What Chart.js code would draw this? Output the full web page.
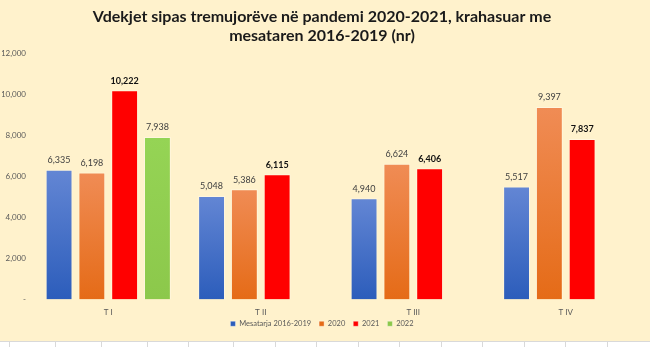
<!DOCTYPE html>
<html>
<head>
<meta charset="utf-8">
<script src="https://cdn.jsdelivr.net/npm/chart.js@4/dist/chart.umd.min.js"></script>
<style>
  html, body { margin: 0; padding: 0; background: #ffffff; }
  #wrap { position: relative; width: 650px; height: 347px; overflow: hidden; }
  #panel { position: absolute; left: 0; top: 0; width: 650px; height: 341px; background: #fff2cc; }
  #sheet { position: absolute; left: 0; top: 341px; width: 650px; height: 6px; border-top: 1px solid #d9d9d9; background: #fff; }
  .cell { position: absolute; top: 0; width: 1px; height: 6px; background: #d9d9d9; }
</style>
</head>
<body>
<div id="wrap">
  <div id="panel"><canvas id="deathsChart"></canvas></div>
  <div id="sheet"></div>
</div>
<script>
// Quarterly deaths, pandemic years vs 2016-2019 average
const quarters = ['T I', 'T II', 'T III', 'T IV'];
const seriesNames = ['Mesatarja 2016-2019', '2020', '2021', '2022'];
const avg2016to2019 = [6335, 5048, 4940, 5517];
const deaths2020 = [6198, 5386, 6624, 9397];
const deaths2021 = [10222, 6115, 6406, 7837];
const deaths2022 = [7938, null, null, null];
const yTicks = [0, 2000, 4000, 6000, 8000, 10000, 12000];

const FONT = 'Lato, "Liberation Sans", sans-serif';

// spreadsheet column lines under the chart
const sheet = document.getElementById('sheet');
[9, 55, 101, 147, 188, 233, 275, 316, 358, 399, 441, 482, 524, 565, 607].forEach(x => {
    const d = document.createElement('div');
    d.className = 'cell';
    d.style.left = x + 'px';
    sheet.appendChild(d);
});

function barGradient(top, bottom) {
    return function(context) {
        const chart = context.chart;
        const yScale = chart.scales.y;
        if (!chart.chartArea || !yScale || context.raw == null) return bottom;
        const y0 = yScale.getPixelForValue(context.raw);
        const y1 = yScale.getPixelForValue(0);
        const g = chart.ctx.createLinearGradient(0, y0, 0, y1);
        g.addColorStop(0, top);
        g.addColorStop(1, bottom);
        return g;
    };
}

// value labels above each bar
const valueLabels = {
    id: 'valueLabels',
    afterDatasetsDraw(chart) {
        const ctx = chart.ctx;
        ctx.save();
        ctx.textAlign = 'center';
        ctx.textBaseline = 'bottom';
        chart.data.datasets.forEach((ds, i) => {
            const meta = chart.getDatasetMeta(i);
            const bold = ds.label === '2021';
            ctx.font = (bold ? 'bold ' : '') + '9px ' + FONT;
            ctx.fillStyle = bold ? '#111111' : '#404040';
            meta.data.forEach((bar, j) => {
                const v = ds.data[j];
                if (v == null) return;
                ctx.fillText(v.toLocaleString('en-US'), bar.x, bar.y - 5);
            });
        });
        ctx.restore();
    }
};

// pull the legend up, closer to the quarter labels
const legendNudge = {
    id: 'legendNudge',
    afterLayout(chart) {
        if (!chart.legend) return;
        chart.legend.top -= 13;
        chart.legend.bottom -= 13;
    }
};

const canvas = document.getElementById('deathsChart');
canvas.width = 650;
canvas.height = 341;

new Chart(canvas, {
    type: 'bar',
    data: {
        labels: quarters,
        datasets: [
            { label: seriesNames[0], data: avg2016to2019, backgroundColor: barGradient('#6386d4', '#2c5dbb') },
            { label: seriesNames[1], data: deaths2020, backgroundColor: barGradient('#f08c55', '#e56b17') },
            { label: seriesNames[2], data: deaths2021, backgroundColor: '#ff0000' },
            { label: seriesNames[3], data: deaths2022, backgroundColor: barGradient('#95d455', '#8cc84b') }
        ]
    },
    options: {
        responsive: false,
        animation: false,
        layout: { padding: { left: 2, right: 8, top: 0, bottom: -4 } },
        datasets: {
            bar: {
                categoryPercentage: 0.86,
                barPercentage: 0.82,
                borderColor: 'rgba(255, 255, 255, 0.35)',
                borderWidth: 1
            }
        },
        plugins: {
            title: {
                display: true,
                text: ['Vdekjet sipas tremujorëve në pandemi 2020-2021, krahasuar me', 'mesataren 2016-2019 (nr)'],
                color: '#1a1a1a',
                font: { family: FONT, size: 16, weight: 'bold', lineHeight: 1.15 },
                padding: { top: 8, bottom: 9 }
            },
            legend: {
                position: 'bottom',
                maxHeight: 20,
                labels: {
                    color: '#595959',
                    font: { family: FONT, size: 7.5 },
                    boxWidth: 5,
                    boxHeight: 5,
                    padding: 8
                }
            },
            tooltip: { enabled: false }
        },
        scales: {
            x: {
                grid: { display: false, drawTicks: false, tickLength: 0 },
                border: { display: false },
                ticks: { color: '#595959', font: { family: FONT, size: 8 }, padding: 8 }
            },
            y: {
                min: 0,
                max: 12000,
                afterBuildTicks(axis) {
                    axis.ticks = yTicks.map(v => ({ value: v }));
                },
                afterFit(axis) {
                    axis.width = 30;
                },
                grid: { display: false, drawTicks: false, tickLength: 0 },
                border: { display: false },
                ticks: {
                    color: '#595959',
                    font: { family: FONT, size: 8 },
                    padding: 6,
                    callback: v => v === 0 ? '-' : v.toLocaleString('en-US')
                }
            }
        }
    },
    plugins: [valueLabels, legendNudge]
});
</script>
</body>
</html>
